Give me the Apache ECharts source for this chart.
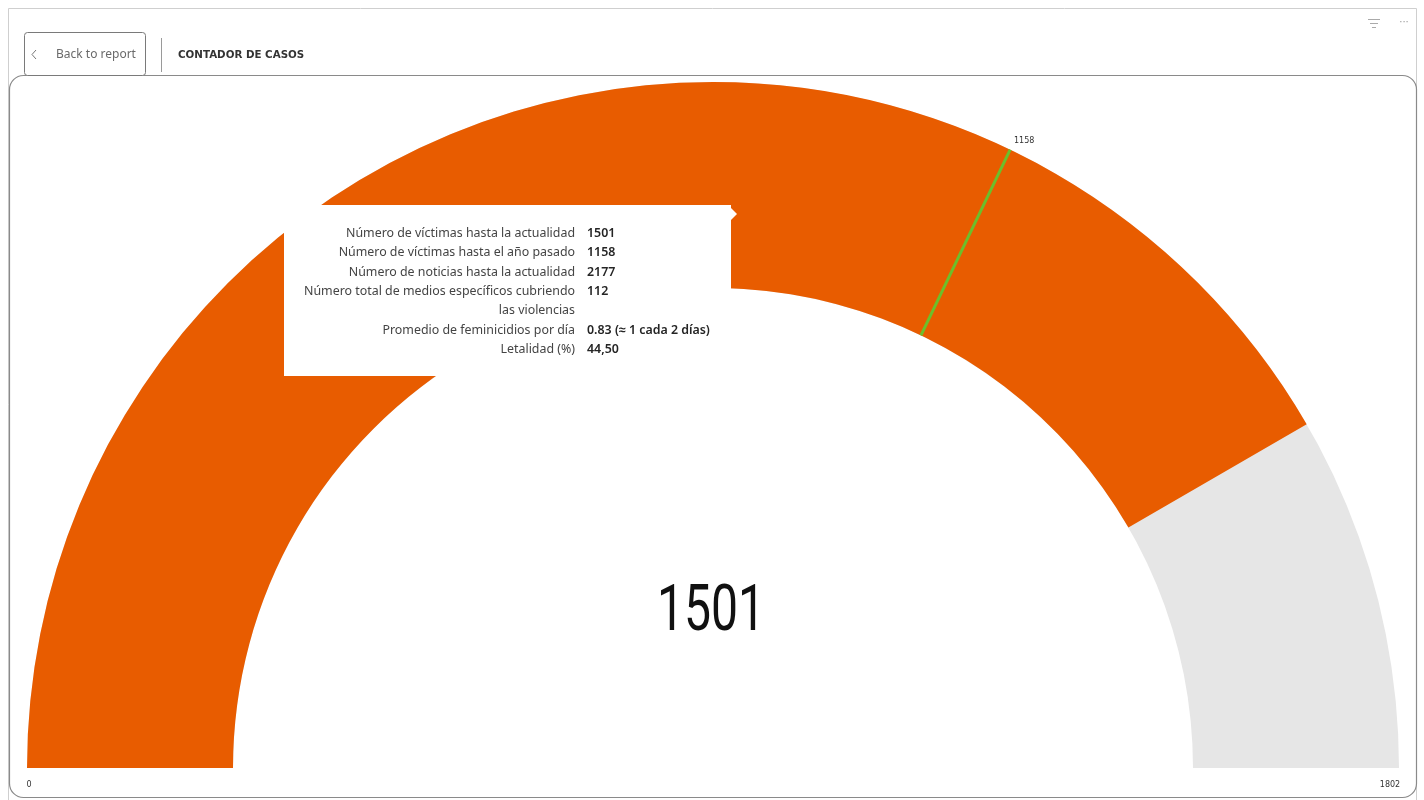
<!DOCTYPE html>
<html>
<head>
<meta charset="utf-8">
<title>Contador de casos</title>
<script src="https://cdn.jsdelivr.net/npm/echarts@6/dist/echarts.min.js"></script>
<style>
  html, body { margin: 0; padding: 0; background: #ffffff; }
  #chart { width: 1424px; height: 800px; }
</style>
</head>
<body>
<div id="chart"></div>
<script>
// Gauge scale and values
const gaugeMin = 0;
const gaugeMax = 1802;
const currentVictims = 1501;
const lastYearVictims = 1158;

// Tooltip rows: label / value
const tipLabels = [
  'Número de víctimas hasta la actualidad',
  'Número de víctimas hasta el año pasado',
  'Número de noticias hasta la actualidad',
  'Número total de medios específicos cubriendo\nlas violencias',
  'Promedio de feminicidios por día',
  'Letalidad (%)'
];
const tipValues = ['1501', '1158', '2177', '112', '0.83 (≈ 1 cada 2 días)', '44,50'];

const ORANGE = '#E85C00';
const GREY = '#E6E6E6';
const GREEN = '#6CBF2B';
const cx = 713, cy = 768, R = 686, BAND = 206;

const chart = echarts.init(document.getElementById('chart'), null, { renderer: 'canvas' });

// target label sits just outside the outer edge of the arc
const tAngle = Math.PI * (1 - (lastYearVictims - gaugeMin) / (gaugeMax - gaugeMin));
const tOffX = R * Math.cos(tAngle) + 14;
const tOffY = -R * Math.sin(tAngle) - 9;

// tooltip card elements
const TIP_Z = 100;
const tipFont = '"Segoe UI", "Noto Sans", sans-serif';
const tipEls = [
  { type: 'rect', z: TIP_Z, shape: { x: 284, y: 205, width: 447, height: 171 },
    style: { fill: '#ffffff' } },
  { type: 'polygon', z: TIP_Z, shape: { points: [[730, 207], [737, 214], [730, 221]] },
    style: { fill: '#ffffff' } }
];
let rowY = 224;
const LH = 19.3;
tipLabels.forEach((lab, i) => {
  const lines = lab.split('\n').length;
  tipEls.push({
    type: 'text', z: TIP_Z + 1, x: 575, y: rowY,
    style: { text: lab, align: 'right', verticalAlign: 'top', fill: '#444',
      font: '12.4px ' + tipFont, lineHeight: LH }
  });
  tipEls.push({
    type: 'text', z: TIP_Z + 1, x: 587, y: rowY,
    style: { text: tipValues[i], align: 'left', verticalAlign: 'top', fill: '#252525',
      font: '600 12.4px ' + tipFont, lineHeight: LH }
  });
  rowY += LH * lines;
});

const option = {
  animation: false,
  backgroundColor: '#ffffff',
  series: [
    {
      type: 'gauge',
      center: [cx, cy],
      radius: R,
      startAngle: 180,
      endAngle: 0,
      min: gaugeMin,
      max: gaugeMax,
      axisLine: { lineStyle: { width: BAND, color: [[1, GREY]] } },
      progress: { show: true, width: BAND, itemStyle: { color: ORANGE } },
      pointer: { show: false },
      anchor: { show: false },
      axisTick: { show: false },
      splitLine: { show: false },
      axisLabel: { show: false },
      title: { show: false },
      // the big value is drawn as a condensed graphic text below
      detail: { show: false },
      data: [{ value: currentVictims }]
    },
    {
      type: 'gauge',
      center: [cx, cy],
      radius: R,
      startAngle: 180,
      endAngle: 0,
      min: gaugeMin,
      max: gaugeMax,
      z: 5,
      axisLine: { show: false },
      progress: { show: false },
      pointer: {
        show: true,
        icon: 'rect',
        width: 3,
        length: BAND,
        offsetCenter: [0, -(R - BAND)],
        itemStyle: { color: GREEN }
      },
      anchor: { show: false },
      axisTick: { show: false },
      splitLine: { show: false },
      axisLabel: { show: false },
      title: {
        show: true,
        offsetCenter: [tOffX, tOffY],
        fontSize: 8,
        color: '#333',
        fontFamily: '"DejaVu Sans", sans-serif'
      },
      detail: { show: false },
      data: [{ value: lastYearVictims, name: String(lastYearVictims) }]
    }
  ],
  graphic: [
    // outer page frame
    { type: 'rect', shape: { x: 8.5, y: 8.5, width: 1408, height: 800 },
      style: { fill: 'none', stroke: '#cfcfcf', lineWidth: 1 }, z: 0 },
    // report panel
    { type: 'rect', shape: { x: 9.5, y: 75.5, width: 1407, height: 722, r: 14 },
      style: { fill: 'none', stroke: '#8a8a8a', lineWidth: 1.2 }, z: 0 },
    // back button
    { type: 'rect', shape: { x: 24.5, y: 32.5, width: 121, height: 43, r: 3 },
      style: { fill: '#fff', stroke: '#7a7a7a', lineWidth: 1 }, z: 1 },
    { type: 'polyline', shape: { points: [[36, 50], [32, 54.5], [36, 59]] },
      style: { stroke: '#777', lineWidth: 1, fill: 'none' }, z: 2 },
    { type: 'text', x: 56, y: 55, z: 2,
      style: { text: 'Back to report', verticalAlign: 'middle', fill: '#6a6a6a',
        font: '12px "Segoe UI", "Noto Sans", sans-serif' } },
    { type: 'line', shape: { x1: 161.5, y1: 38, x2: 161.5, y2: 72 },
      style: { stroke: '#9a9a9a', lineWidth: 1 }, z: 1 },
    { type: 'text', x: 178, y: 55, z: 2,
      style: { text: 'CONTADOR DE CASOS', verticalAlign: 'middle', fill: '#333',
        font: 'bold 10.3px "DejaVu Sans", sans-serif' } },
    // header icons
    { type: 'line', shape: { x1: 1368, y1: 19.5, x2: 1380, y2: 19.5 }, style: { stroke: '#aaa', lineWidth: 1 } },
    { type: 'line', shape: { x1: 1370, y1: 23.5, x2: 1378, y2: 23.5 }, style: { stroke: '#aaa', lineWidth: 1 } },
    { type: 'line', shape: { x1: 1372, y1: 27.5, x2: 1376, y2: 27.5 }, style: { stroke: '#aaa', lineWidth: 1 } },
    { type: 'text', x: 1404, y: 22, style: { text: '···', align: 'center', verticalAlign: 'middle',
        fill: '#999', font: '10px "DejaVu Sans", sans-serif' } },
    // scale end labels
    { type: 'text', x: 29, y: 785, z: 3,
      style: { text: String(gaugeMin), align: 'center', verticalAlign: 'middle', fill: '#333',
        font: '8px "DejaVu Sans", sans-serif' } },
    { type: 'text', x: 1390, y: 785, z: 3,
      style: { text: String(gaugeMax), align: 'center', verticalAlign: 'middle', fill: '#333',
        font: '8px "DejaVu Sans", sans-serif' } },
    // centre value, horizontally condensed
    { type: 'text', x: 711, y: 614, z: 20, scaleX: 0.74,
      style: { text: String(currentVictims), align: 'center', verticalAlign: 'middle', fill: '#111',
        font: '65px Roboto, "DejaVu Sans", sans-serif' } },
    // tooltip card
    { type: 'group', z: TIP_Z, children: tipEls }
  ]
};

chart.setOption(option);
</script>
</body>
</html>
